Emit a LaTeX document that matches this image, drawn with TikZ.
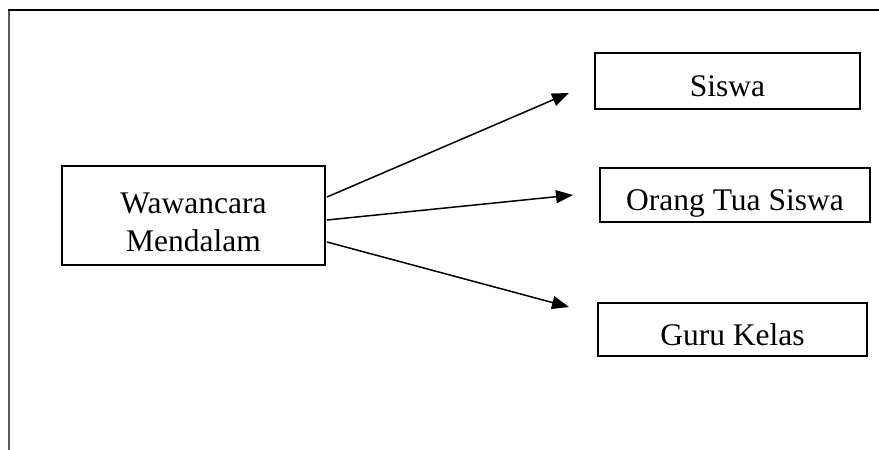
\documentclass[tikz,border=0pt]{standalone}
\usepackage{fontspec}
\setmainfont{Liberation Serif}
\usepackage{tikz}
\usetikzlibrary{calc}
\usetikzlibrary{arrows.meta}
\usetikzlibrary{positioning}
\definecolor{framegray}{RGB}{90, 90, 90}

\begin{document}
\begin{tikzpicture}[x=1pt, y=-1pt,
        box/.style={draw, line width=2pt, inner sep=0pt, text height=33pt, text depth=2pt,
                    font=\fontsize{31.5}{38}\selectfont},
        link/.style={line width=1.5pt, -{Triangle[length=17pt, width=13pt]}}]
            \useasboundingbox                                                 (0, 0) rectangle (879, 450);
            % Page frame
            \draw[line width=2pt]                                             (8, 10) -- (879, 10);
            \draw[framegray, line width=2pt]                                  (9, 11) -- (9, 450);
            % Source
            \node[box, minimum width=263pt, minimum height=99pt, align=center,
                  text height=72pt, text depth=-3pt] (wawancara) at (193.5, 215.5) {Wawancara\\Mendalam};
            % Targets
            \node[box, minimum width=265pt, minimum height=56pt] (siswa)    at (727.5,  81.0) {Siswa};
            \node[box, minimum width=270pt, minimum height=54pt] (orangtua) at (735.0, 195.0) {Orang Tua Siswa};
            \node[box, minimum width=269pt, minimum height=53pt] (guru)     at (732.5, 329.5) {Guru Kelas};
            % Arrow ends
            \coordinate (toSiswa)    at ($(siswa.west)    + (-25,  12.0)$);
            \coordinate (toOrangtua) at ($(orangtua.west) + (-26,   0.0)$);
            \coordinate (toGuru)     at ($(guru.west)     + (-28, -22.5)$);
            % Arrows
            \draw[link] ($(wawancara.east) + (1, -18.5)$) -- (toSiswa);
            \draw[link] ($(wawancara.east) + (1,   4.5)$) -- (toOrangtua);
            \draw[link] ($(wawancara.east) + (1,  26.5)$) -- (toGuru);
        \end{tikzpicture}
\end{document}
